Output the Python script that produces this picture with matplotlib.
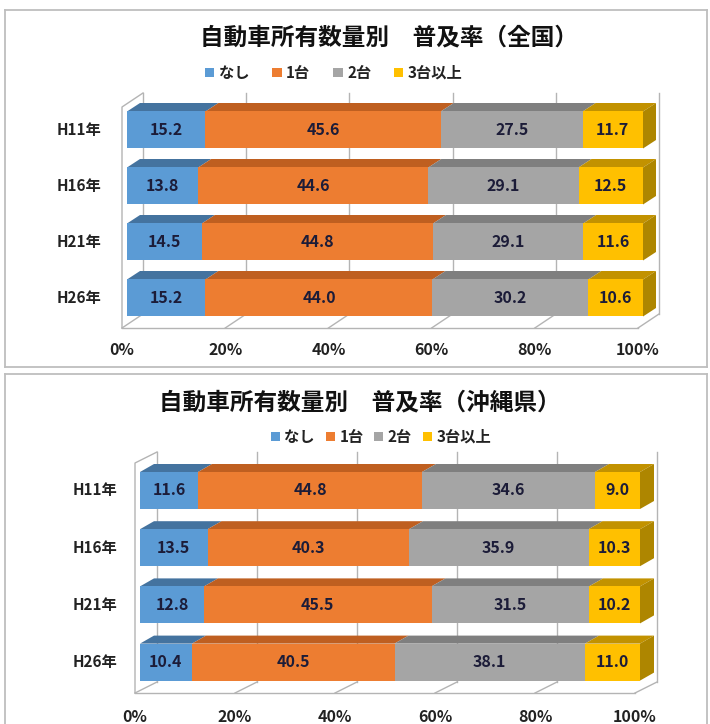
import numpy as np
import matplotlib
matplotlib.use("Agg")
import matplotlib.pyplot as plt
from matplotlib.patches import Polygon, Patch

plt.rcParams['font.family'] = ['Noto Sans CJK JP', 'DejaVu Sans']

# ---------------- data ----------------
years = ['H11年', 'H16年', 'H21年', 'H26年']
series = ['なし', '1台', '2台', '3台以上']
ticks = [0, 20, 40, 60, 80, 100]
tick_labels = ['0%', '20%', '40%', '60%', '80%', '100%']

national_none = [15.2, 13.8, 14.5, 15.2]
national_one = [45.6, 44.6, 44.8, 44.0]
national_two = [27.5, 29.1, 29.1, 30.2]
national_three = [11.7, 12.5, 11.6, 10.6]

okinawa_none = [11.6, 13.5, 12.8, 10.4]
okinawa_one = [44.8, 40.3, 45.5, 40.5]
okinawa_two = [34.6, 35.9, 31.5, 38.1]
okinawa_three = [9.0, 10.3, 10.2, 11.0]

title_national = '自動車所有数量別　普及率（全国）'
title_okinawa = '自動車所有数量別　普及率（沖縄県）'

# ---------------- style ----------------
front_colors = ['#5B9BD5', '#ED7D31', '#A5A5A5', '#FFC000']
top_colors = ['#44739F', '#BF5F20', '#7F7F7F', '#C29200']
side_color = '#AE8600'
grid_color = '#B4B4B4'
label_color = '#1C1C38'

W, H = 710, 724
fig = plt.figure(figsize=(W / 100, H / 100), dpi=100)

panels = [
    dict(values=[national_none, national_one, national_two, national_three],
         title=title_national,
         rect=(5, 10, 707, 367), x0=127, sx=5.16, y0=130, sy=56, bh=37,
         floor_front=328, floor_back=314, off_front=-5, off_back=16,
         wall_back=93, wall_front=107, bdx=13, bdy=8.5,
         title_xy=(389, 37), legend_xy=(334, 73), legend_sp=1.5,
         tick_y=350, cat_x=101),
    dict(values=[okinawa_none, okinawa_one, okinawa_two, okinawa_three],
         title=title_okinawa,
         rect=(5, 374, 707, 745), x0=140, sx=5.0, y0=490.5, sy=57.2, bh=37,
         floor_front=693, floor_back=682, off_front=-5, off_back=17,
         wall_back=452, wall_front=463, bdx=14, bdy=8,
         title_xy=(360, 402), legend_xy=(381, 437), legend_sp=0.7,
         tick_y=717, cat_x=117),
]

for P in panels:
    L, T, R, B = P['rect']
    ax = fig.add_axes([L / W, 1 - B / H, (R - L) / W, (B - T) / H])
    x0, sx, y0, sy = P['x0'], P['sx'], P['y0'], P['sy']
    ax.set_xlim((L - x0) / sx, (R - x0) / sx)
    ax.set_ylim((y0 - B) / sy, (y0 - T) / sy)
    ax.set_xticks([])
    ax.set_yticks([])
    for s in ax.spines.values():
        s.set_color('#BEBEBE')
        s.set_linewidth(1.3)

    def px2y(py):
        return (y0 - py) / sy

    fx = P['off_front'] / sx  # floor front x offset (data)
    bxo = P['off_back'] / sx  # back wall x offset (data)
    yff = px2y(P['floor_front'])
    yfb = px2y(P['floor_back'])
    ywb = px2y(P['wall_back'])
    ywf = px2y(P['wall_front'])

    # back wall gridlines and floor lines
    for t in ticks:
        ax.plot([t + bxo, t + bxo], [yfb, ywb], color=grid_color, lw=1.0, zorder=1)
        ax.plot([t + fx, t + bxo], [yff, yfb], color=grid_color, lw=1.0, zorder=1)
    ax.plot([fx, 100 + fx], [yff, yff], color=grid_color, lw=1.0, zorder=1)
    # left side wall
    ax.plot([fx, fx, bxo], [yff, ywf, ywb], color=grid_color, lw=1.0, zorder=1)

    # bars
    ypos = -np.arange(len(years))
    bh = P['bh'] / sy
    bdx = P['bdx'] / sx
    bdy = P['bdy'] / sy
    left = np.zeros(len(years))
    for k, vals in enumerate(P['values']):
        vals = np.array(vals)
        for i in range(len(years)):
            xa, xb = left[i], left[i] + vals[i]
            yt = ypos[i] + bh / 2
            ax.add_patch(Polygon([(xa, yt), (xb, yt), (xb + bdx, yt + bdy), (xa + bdx, yt + bdy)],
                                 closed=True, facecolor=top_colors[k], edgecolor='none', zorder=2))
            if k == len(P['values']) - 1:
                yb = ypos[i] - bh / 2
                ax.add_patch(Polygon([(xb, yt), (xb + bdx, yt + bdy), (xb + bdx, yb + bdy), (xb, yb)],
                                     closed=True, facecolor=side_color, edgecolor='none', zorder=2))
        cont = ax.barh(ypos, vals, left=left, height=bh, color=front_colors[k],
                       edgecolor='none', zorder=3)
        ax.bar_label(cont, labels=[f'{v:.1f}' for v in vals], label_type='center',
                     fontsize=11.5, fontweight='bold', color=label_color, zorder=4)
        left = left + vals

    # category labels
    for i, yl in enumerate(years):
        ax.text((P['cat_x'] - x0) / sx, ypos[i], yl, ha='right', va='center',
                fontsize=11, fontweight='bold', color='#222222')
    # tick labels
    for t, tl in zip(ticks, tick_labels):
        ax.text(t + fx, px2y(P['tick_y']), tl, ha='center', va='center',
                fontsize=11.5, fontweight='bold', color='#222222')

    # title
    tx, ty = P['title_xy']
    fig.text(tx / W, 1 - ty / H, P['title'], ha='center', va='center',
             fontsize=17, fontweight='bold', color='#111111')
    # legend
    lx, ly = P['legend_xy']
    handles = [Patch(facecolor=c, edgecolor='none') for c in front_colors]
    fig.legend(handles, series, loc='center', bbox_to_anchor=(lx / W, 1 - ly / H),
               ncol=4, frameon=False, handlelength=0.6, handleheight=0.6,
               handletextpad=0.3, columnspacing=P['legend_sp'],
               prop=dict(size=11, weight='bold'), labelcolor='#222222')

fig.savefig('out.png', dpi=100)
